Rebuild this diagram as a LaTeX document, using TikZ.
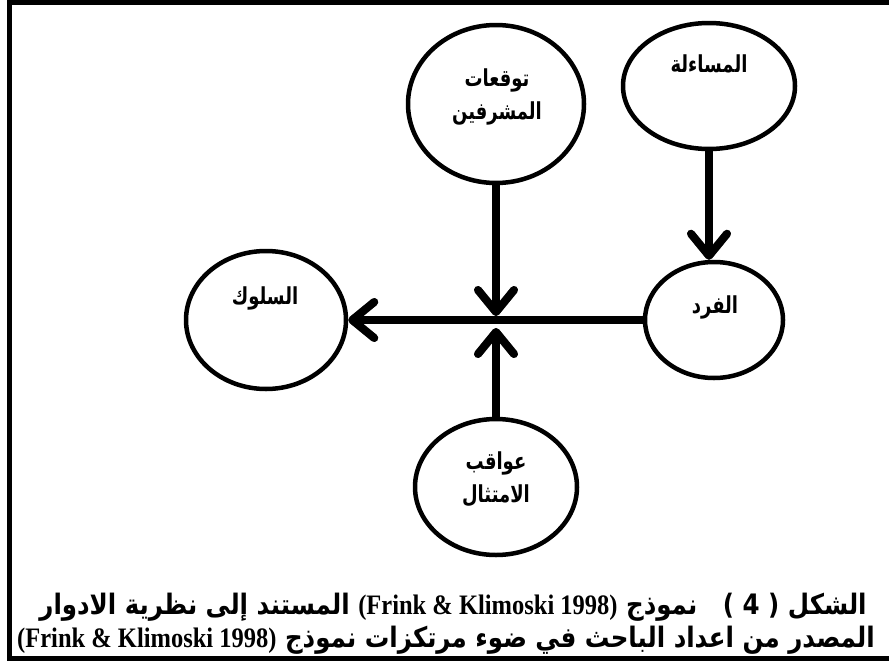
\documentclass[tikz,border=0pt]{standalone}
\usepackage{fontspec}
\usepackage{graphicx}
\usetikzlibrary{shapes.geometric,arrows.meta,calc}
\TeXXeTstate=1
\newfontfamily\arabicfont[Script=Arabic]{DejaVu Sans}
\newfontfamily\latinfont{Liberation Serif}
% Arabic set a little taller than DejaVu draws it
\newcommand{\tallR}[2][1.3]{\scalebox{1}[#1]{\beginR #2\endR}}

\begin{document}
\begin{tikzpicture}[x=1pt,y=-1pt,
  bubble/.style={draw, line width=4.5pt, ellipse, inner sep=0pt},
  word/.style={font=\arabicfont\bfseries\fontsize{18}{33}\selectfont, align=center, inner sep=0pt},
  caption/.style={font=\arabicfont\bfseries\fontsize{24.5}{26}\selectfont, inner sep=0pt},
  link/.style={line width=8pt, -{Straight Barb[length=22pt,width=36pt,round]}},
  shade/.style={link, draw=black!40, shift={(3,3)}}
]
\useasboundingbox (0,0) rectangle (889,664);
\clip (0,0) rectangle (889,664);

% outer frame (its right side runs off the page)
\draw[line width=5pt] (9.5,2.5) rectangle (900,658.5);

% bubbles
\node[bubble, minimum width=176pt, minimum height=158pt] (expect)  at (496,104) {};
\node[bubble, minimum width=172pt, minimum height=126pt] (account) at (709,86)  {};
\node[bubble, minimum width=160pt, minimum height=138pt] (behav)   at (266,320) {};
\node[bubble, minimum width=138pt, minimum height=116pt] (indiv)   at (714,320) {};
\node[bubble, minimum width=162pt, minimum height=136pt] (conseq)  at (496,487) {};

% bubble texts
\node[word] (expectT)  at (497,97)  {\tallR{توقعات}\\\tallR{المشرفين}};
\node[word] (accountT) at (709,64)  {\tallR{المساءلة}};
\node[word] (behavT)   at (265,298) {\tallR{السلوك}};
\node[word] (indivT)   at (715,307) {\tallR{الفرد}};
\node[word] (conseqT)  at (496,479) {\tallR{عواقب}\\\tallR{الامتثال}};

% meeting point of the three arrows
\coordinate (hub)  at (496,322);
\coordinate (hubN) at (496,316);
\coordinate (hubS) at (496,328);

% shadows of the connectors
\draw[shade] (indiv.west) -- (behav.east);
\draw[shade] (expect.south) -- (hubN);
\draw[shade] (conseq.north) -- (hubS);
\draw[shade] (account.south) -- (account.south |- indiv.north);

% connectors
\draw[link] (indiv.west) -- (behav.east);
\draw[link] (expect.south) -- (hubN);
\draw[link] (conseq.north) -- (hubS);
\draw[link] (account.south) -- (account.south |- indiv.north);

% caption
\node[caption] (cap1) at (453,607) {\tallR[1.15]{الشكل \beginL) 4 (\endL{}\ \ \ نموذج \beginL{\latinfont\bfseries (Frink \& Klimoski 1998)}\endL{} المستند إلى نظرية الادوار}};
\node[caption] (cap2) at (446,640) {\tallR[1.15]{المصدر من اعداد الباحث في ضوء مرتكزات نموذج \beginL{\latinfont\bfseries (Frink \& Klimoski 1998)}\endL}};
\end{tikzpicture}
\end{document}
